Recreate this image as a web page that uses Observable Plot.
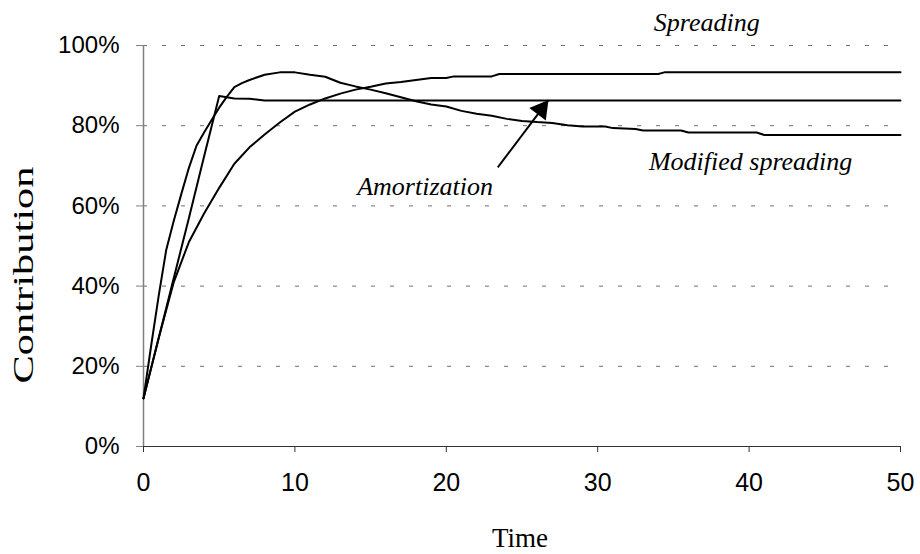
<!DOCTYPE html>
<html>
<head>
<meta charset="utf-8">
<script src="https://cdn.jsdelivr.net/npm/d3@7"></script>
<script src="https://cdn.jsdelivr.net/npm/@observablehq/plot@0.6"></script>
<style>
  html, body { margin: 0; padding: 0; background: #fff; }
  #chart svg { display: block; }
</style>
</head>
<body>
<div id="chart"></div>
<script>
// ---- data (time, contribution %) ----
const spreadingTime  = [0, 1, 2, 3, 4, 5, 6, 7, 8, 9, 10, 11, 12, 13, 14, 15, 16, 17, 18, 19, 20, 20.5, 23, 23.5, 34, 34.4, 50];
const spreadingValue = [12, 27, 41, 51, 58.1, 64.5, 70.5, 74.6, 77.8, 80.8, 83.5, 85.3, 86.8, 88.0, 89.0, 89.7, 90.5, 90.9, 91.4, 91.9, 91.9, 92.3, 92.3, 92.9, 92.9, 93.3, 93.3];

const modifiedTime  = [0, 0.5, 1, 1.5, 2, 2.5, 3, 3.5, 4, 4.5, 5, 5.5, 6, 6.5, 7, 8, 9, 10, 11, 12, 13, 14, 15, 16, 17, 18, 19, 20, 21, 22, 23, 24, 25, 26, 27, 28, 29, 30.5, 31, 32.5, 33, 35.5, 36, 40.5, 41, 50];
const modifiedValue = [12, 25, 37.5, 49, 56.3, 63, 69.5, 75, 78.3, 81.4, 84.5, 87.2, 89.6, 90.6, 91.4, 92.7, 93.3, 93.3, 92.7, 92.2, 90.7, 89.8, 89.0, 88.1, 87.1, 86.1, 85.3, 84.8, 83.7, 83.0, 82.5, 81.7, 81.2, 80.9, 80.7, 80.1, 79.8, 79.8, 79.4, 79.2, 78.8, 78.8, 78.3, 78.3, 77.7, 77.7];

const amortTime  = [0, 1, 2, 3, 4, 5, 6, 7, 8, 50];
const amortValue = [12, 27, 42, 57, 72.3, 87.4, 86.8, 86.7, 86.3, 86.3];

const xTicks = [0, 10, 20, 30, 40, 50];
const yTicks = [0, 20, 40, 60, 80, 100];
const gridLines = [20, 40, 60, 80, 100];

// annotations (data units)
const labelText = ["Spreading", "Modified spreading", "Amortization"];
const labelX    = [37.2, 40.1, 18.6];
const labelY    = [103.5, 68.9, 62.6];

const arrowFrom = {x: 23.4, y: 69.6};
const arrowTo   = {x: 26.75, y: 86.4};

// ---- build tidy tables ----
const series = [
  ...spreadingTime.map((t, i) => ({series: "Spreading", t, v: spreadingValue[i]})),
  ...modifiedTime.map((t, i) => ({series: "Modified spreading", t, v: modifiedValue[i]})),
  ...amortTime.map((t, i) => ({series: "Amortization", t, v: amortValue[i]}))
];
const labels = labelText.map((text, i) => ({text, x: labelX[i], y: labelY[i]}));

const serif = "'Liberation Serif', 'Times New Roman', serif";
const sans = "'Liberation Sans', Arial, sans-serif";

const chart = Plot.plot({
  width: 920,
  height: 554,
  marginLeft: 143,
  marginRight: 20,
  marginTop: 45,
  marginBottom: 108,
  style: {background: "#fff", color: "#000", fontFamily: sans, overflow: "visible"},
  x: {domain: [0, 50], label: null},
  y: {domain: [0, 100], label: null},
  marks: [
    Plot.ruleY(gridLines, {stroke: "#707070", strokeWidth: 1, strokeDasharray: "4,15", strokeOpacity: 1}),
    Plot.axisY({ticks: yTicks, tickFormat: d => d + "%", tickSize: 7, tickPadding: 17,
      fontSize: 24, fontFamily: sans, stroke: "#808080", strokeOpacity: 1, fill: "#000", label: null}),
    Plot.axisX({ticks: xTicks, tickSize: 6, tickPadding: 21,
      fontSize: 25, fontFamily: sans, stroke: "#333", strokeOpacity: 1, fill: "#000", label: null}),
    Plot.ruleX([0], {stroke: "#808080", strokeWidth: 1.5}),
    Plot.ruleY([0], {stroke: "#333", strokeWidth: 1.2}),
    Plot.line(series, {x: "t", y: "v", z: "series", stroke: "#000", strokeWidth: 2, strokeLinejoin: "round"}),
    Plot.text(labels, {x: "x", y: "y", text: "text", fontFamily: serif, fontStyle: "italic",
      fontSize: 26, fill: "#000", textAnchor: "middle", lineAnchor: "bottom"}),
    Plot.link([{x1: arrowFrom.x, y1: arrowFrom.y, x2: arrowTo.x, y2: arrowTo.y}],
      {x1: "x1", y1: "y1", x2: "x2", y2: "y2", stroke: "#000", strokeWidth: 2}),
    Plot.dot([arrowTo], {x: "x", y: "y", symbol: "triangle", r: 7.7, fill: "#000", stroke: "none",
      rotate: 37.4, dx: -7.3, dy: 9.5}),
    Plot.text(["Time"], {frameAnchor: "bottom", text: d => d, fontFamily: serif, fontSize: 27,
      fill: "#000", textAnchor: "middle", lineAnchor: "bottom", dy: 100, dx: -2}),
    Plot.text(["Contribution"], {frameAnchor: "left", text: d => d, fontFamily: serif, fontSize: 30,
      fill: "#000", textAnchor: "middle", lineAnchor: "bottom", rotate: -90, dx: -111, dy: 29})
  ]
});

// stretch the vertical axis title to the reference length
chart.querySelectorAll("text").forEach(el => {
  if (el.textContent === "Contribution") {
    el.setAttribute("textLength", 217);
    el.setAttribute("lengthAdjust", "spacingAndGlyphs");
  }
});

document.getElementById("chart").appendChild(chart);
</script>
</body>
</html>
